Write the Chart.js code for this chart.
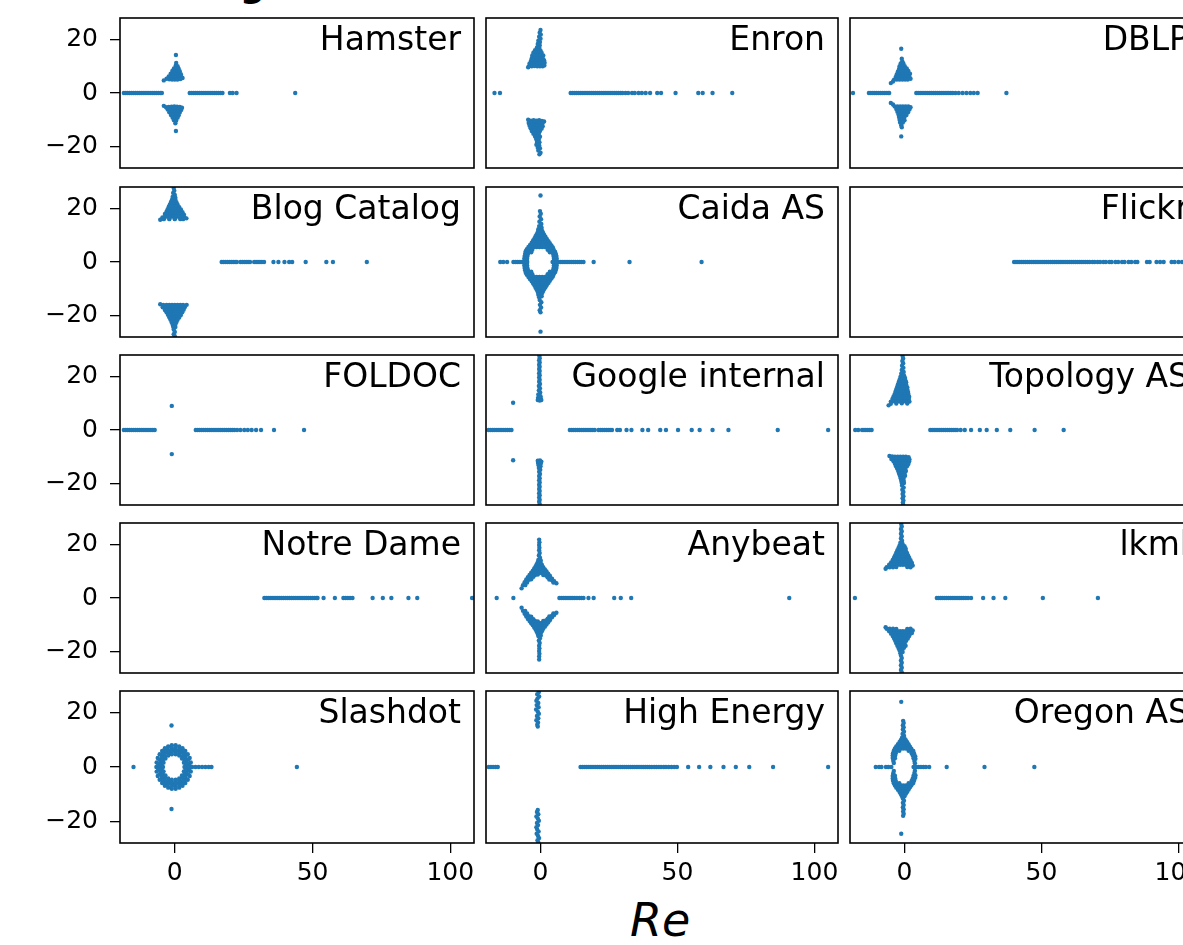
<!DOCTYPE html>
<html>
<head>
<meta charset="utf-8">
<script src="https://cdn.jsdelivr.net/npm/chart.js@4.4.1/dist/chart.umd.min.js"></script>
<style>
html, body { margin: 0; padding: 0; background: #fff; width: 1183px; height: 945px; overflow: hidden; }
.panel { position: absolute; }
.name { position: absolute; font-family: "DejaVu Sans"; font-size: 33px; line-height: 33px; color: #000; white-space: nowrap; text-align: right; }
#xlabel { position: absolute; font-family: "DejaVu Sans"; font-style: italic; font-size: 46px; line-height: 46px; color: #000; }
#sup { position: absolute; font-family: "DejaVu Sans"; font-weight: bold; font-size: 35px; line-height: 35px; color: #000; }
</style>
</head>
<body>
<div id="sup" style="left:240px;top:-32px">g</div>
<div id="xlabel" style="left:630px;top:897px">Re</div>
<script>
// axes
const xTicks = [0, 50, 100]
const yTicks = [-20, 0, 20]
const xRange = [-19.9, 108.6]
const yRange = [-28, 28]

const names = [
    "Hamster", "Enron", "DBLP",
    "Blog Catalog", "Caida AS", "Flickr",
    "FOLDOC", "Google internal", "Topology AS",
    "Notre Dame", "Anybeat", "lkml",
    "Slashdot", "High Energy", "Oregon AS"
]

const hamsterRe = [-18.5,-17.8,-17.1,-16.4,-15.7,-15,-14.3,-13.6,-12.9,-12.2,-11.5,-10.8,-10.1,-9.4,-8.7,-8,-7.3,-6.6,-5.9,-5.2,-4.7,5.4,6.1,6.8,7.5,8.2,8.9,9.6,10.3,11,11.7,12.4,13.1,13.8,14.5,15.2,15.9,16.6,17.3,20,21,22.4,43.7]
const hamsterCx = [[0.4,14.2],[0.5,11.2],[0.3,10.2],[1,10],[-0.3,9.2],[0.6,9],[1.4,9.1],[-0.9,8.2],[0,8],[0.9,8],[1.8,8.1],[-1.5,7.2],[-0.6,7],[0.4,7],[1.3,7],[2.2,7],[-2.2,6.2],[-1.3,6],[-0.4,6],[0.5,6],[1.4,6],[2.4,6],[-3,5.3],[-2,5.1],[-1,5],[0,5],[1,5],[2,5.2],[2.8,5.6],[-4,4.7],
    [-4,-4.8],[-3.2,-5.3],[-2.2,-5.2],[-1.2,-5.1],[-0.2,-5],[0.8,-5.1],[1.8,-5.2],[2.6,-5.5],[-2.6,-6.2],[-1.6,-6.1],[-0.6,-6],[0.4,-6],[1.4,-6.1],[2.3,-6.3],[-2,-7.2],[-1,-7],[0,-7],[1,-7],[1.8,-7.3],[-1.4,-8.2],[-0.4,-8],[0.6,-8],[1.4,-8.3],[-0.8,-9.2],[0.2,-9],[1,-9.2],[-0.3,-10.2],[0.5,-10.3],[0.2,-11.3],[0.4,-14.2]]

const enronRe = [-16.8,-14.8,11,11.7,12.4,13.1,13.8,14.5,15.2,15.9,16.6,17.3,18,18.7,19.4,20.1,20.8,21.5,22.2,22.9,23.6,24.3,25,25.7,26.4,27.1,27.8,28.5,29.2,29.9,31,32,33.4,34.4,35.8,37,38.4,40,42.6,44,49.3,57.6,59.2,62.8,70]
const enronCx = [[0,23.5],[-0.3,22.5],[0.1,21.8],[-0.5,21],[0,20.3],[-0.8,19.5],[-0.2,19],[-1,18.3],[-0.3,17.8],[-1.3,17],[-0.4,16.8],[-2,16],[-1,16],[0,15.8],[-2.6,15],[-1.6,15],[-0.6,15],[0.4,15],[-3,14],[-2,14],[-1,14],[0,14],[1,14],[-3.2,13],[-2.2,13],[-1.2,13],[-0.2,13],[0.8,13],[-3.5,12],[-2.5,12],[-1.5,12],[-0.5,12],[0.5,12],[1.3,12.2],[-4,11],[-3,11],[-2,11],[-1,11],[0,11],[1,11],[1.5,11.3],[-4.2,10],[-3.2,10],[-2.2,10.1],[-1.2,10],[-0.2,10],[0.8,10],[1.4,10.3],[-4.5,9.6],
    [-4.5,-10],[-3.5,-10.3],[-2.5,-10.2],[-1.5,-10.3],[-0.5,-10.2],[0.5,-10.4],[1.3,-10.6],[-4.3,-11.2],[-3.3,-11.2],[-2.3,-11.2],[-1.3,-11.2],[-0.3,-11.2],[0.7,-11.3],[-4,-12.2],[-3,-12.2],[-2,-12.2],[-1,-12.2],[0,-12.2],[0.8,-12.4],[-3.6,-13.2],[-2.6,-13.2],[-1.6,-13.2],[-0.6,-13.2],[0.4,-13.3],[-3.2,-14.2],[-2.2,-14.2],[-1.2,-14.2],[-0.2,-14.2],[-2.6,-15.2],[-1.6,-15.2],[-0.6,-15.2],[-2,-16.2],[-1,-16.2],[-0.2,-16.3],[-1.6,-17.2],[-0.6,-17.2],[-1.3,-18.3],[-0.4,-18.4],[-1.5,-19.3],[-0.5,-19.5],[-1,-20.4],[-0.2,-20.6],[-0.8,-21.5],[0,-22.3],[-0.4,-22.9]]

const dblpRe = [-18.8,-13,-12.3,-11.6,-10.9,-10.2,-9.5,-8.8,-8.1,-7.4,-6.7,-6,-5.6,4.3,5,5.7,6.4,7.1,7.8,8.5,9.2,9.9,10.6,11.3,12,12.7,13.4,14.1,14.8,15.5,16.2,16.9,17.6,18.6,19.8,21.2,22.6,24,25.3,26.7,37.2]
const dblpCx = [[-1.2,16.5],[-1,12.8],[-0.8,11.8],[-1.4,11],[-0.4,11],[-1.8,10],[-0.8,10],[0.1,10],[-2,9],[-1,9],[0,9],[0.8,9.2],[-2.4,8],[-1.4,8],[-0.4,8],[0.6,8],[1.4,8.2],[-2.8,7],[-1.8,7],[-0.8,7],[0.2,7],[1.2,7],[2,7.2],[-3.2,6],[-2.2,6],[-1.2,6],[-0.2,6],[0.8,6],[1.8,6],[-3.8,5],[-2.8,5],[-1.8,5],[-0.8,5],[0.2,5],[1.2,5],[2.2,5.3],[-5,3.7],[-4.2,4.3],
    [-5,-3.7],[-4.2,-4.3],[-3.6,-5],[-2.6,-5],[-1.6,-5],[-0.6,-5],[0.4,-5],[1.4,-5],[2.2,-5.3],[-3,-6],[-2,-6],[-1,-6],[0,-6],[1,-6],[1.8,-6.2],[-2.6,-7],[-1.6,-7],[-0.6,-7],[0.4,-7],[1.3,-7.2],[-2.2,-8],[-1.2,-8],[-0.2,-8],[0.7,-8.2],[-2,-9],[-1,-9],[0,-9],[-1.8,-10],[-0.8,-10],[0,-10.2],[-1.6,-11],[-0.6,-11],[-1.2,-12],[-1,-12.8],[-1.2,-16.2]]

const blogRe = [17,17.7,18.4,19.1,19.8,20.5,21.2,21.9,22.5,23.8,24.5,25.2,25.9,26.6,27.3,28.8,29.5,30.2,30.9,31.6,32.4,35.8,37.6,39.8,41.5,42.6,47.5,55,57.4,69.7]
const blogCx = [[-0.4,27.6],[-0.2,26.6],[-0.6,25.8],[0,25],[-0.8,24.3],[0.2,24],[-1,23.3],[0.2,23.2],[-1.4,22.4],[-0.3,22.4],[0.6,22.3],[-1.8,21.5],[-0.8,21.5],[0.2,21.5],[1,21.4],[-2.2,20.6],[-1.2,20.6],[-0.2,20.6],[0.8,20.6],[1.6,20.5],[-2.6,19.7],[-1.6,19.7],[-0.6,19.7],[0.4,19.7],[1.4,19.7],[2.2,19.6],[-3,18.8],[-2,18.8],[-1,18.8],[0,18.8],[1,18.8],[2,18.8],[2.8,18.6],[-3.6,17.9],[-2.6,17.9],[-1.6,17.9],[-0.6,17.9],[0.4,17.9],[1.4,17.9],[2.4,17.9],[3.3,17.7],[-4.5,16.6],[-3.5,16.9],[-2.5,16.9],[-1.5,16.9],[-0.5,16.9],[0.5,16.9],[1.5,16.9],[2.5,16.9],[3.5,16.7],[4.2,16.3],[-5.3,15.8],[-4,16],[-2,16],[0,16],[2,16],[3,16],
    [-5.3,-15.8],[-4.2,-16],[-3,-16],[-2,-16],[-1,-16],[0,-16],[1,-16],[2,-16],[3,-16],[4.3,-16],[-4.4,-16.9],[-3.4,-16.9],[-2.4,-16.9],[-1.4,-16.9],[-0.4,-16.9],[0.6,-16.9],[1.6,-16.9],[2.6,-16.9],[3.6,-16.9],[-3.6,-17.9],[-2.6,-17.9],[-1.6,-17.9],[-0.6,-17.9],[0.4,-17.9],[1.4,-17.9],[2.4,-17.9],[3.2,-17.8],[-3,-18.8],[-2,-18.8],[-1,-18.8],[0,-18.8],[1,-18.8],[2,-18.8],[2.7,-18.8],[-2.5,-19.7],[-1.5,-19.7],[-0.5,-19.7],[0.5,-19.7],[1.5,-19.7],[2.2,-19.8],[-2,-20.6],[-1,-20.6],[0,-20.6],[1,-20.6],[1.6,-20.7],[-1.6,-21.5],[-0.6,-21.5],[0.4,-21.5],[1,-21.6],[-1.2,-22.4],[-0.2,-22.4],[0.6,-22.4],[-0.8,-23.3],[0.2,-23.3],[-0.6,-24.2],[0.2,-24.3],[-0.4,-25.2],[0,-26.1],[-0.4,-27],[0,-27.7]]

const caidaRe = [-14.7,-13.6,-12.2,-9.9,-9.2,-8.5,-7.8,-7.1,-6.4,-5.7,-4.9,4.4,5.1,5.8,6.5,7.2,7.9,8.6,9.3,10,10.7,11.4,12.1,12.8,13.5,14.2,14.9,15.7,19.4,32.5,58.8]
const caidaCx = [[0,24.8],[-0.2,19],[0.1,18],[-0.3,17],[0.2,16],[-0.4,15],[0.3,14.2],[-0.5,13.4],[0.4,12.8],[-0.8,12.2],[0.5,11.8],[-1,11.2],[0,11.2],[0.9,11],[-1.4,10.4],[-0.4,10.4],[0.6,10.4],[1.3,10.2],[-1.8,9.6],[-0.8,9.6],[0.2,9.6],[1.2,9.6],[1.8,9.4],[-2.2,8.8],[-1.2,8.8],[-0.2,8.8],[0.8,8.8],[1.8,8.8],[2.3,8.6],[-2.7,8],[-1.7,8],[-0.7,8],[0.3,8],[1.3,8],[2.3,8],[2.9,7.8],[-3.2,7.2],[-2.2,7.2],[-1.2,7.2],[-0.2,7.2],[0.8,7.2],[1.8,7.2],[2.8,7.2],[3.4,7],[-3.8,6.4],[-2.8,6.4],[-1.8,6.4],[-0.8,6.4],[0.2,6.4],[1.2,6.4],[2.2,6.4],[3.2,6.4],[4,6.2],[-4.4,5.6],[-3.4,5.6],[-2.4,5.6],[-1.4,5.6],[-0.4,5.6],[0.6,5.6],[1.6,5.6],[2.6,5.6],[3.6,5.6],[4.5,5.4],[-5,4.8],[-4,4.8],[-3,4.6],[2.6,4.6],[3.6,4.8],[4.8,4.6],[-5.4,4],[-4.4,3.9],[-3.4,3.6],[3.4,3.6],[4.4,3.9],[5.3,3.8],[-5.6,3.1],[-4.6,3],[4.6,3],[5.6,3],[-5.8,2.2],[-4.8,2.1],[4.8,2.1],[5.8,2.2],[-5.9,1.3],[-4.9,1.2],[4.9,1.2],[5.9,1.3],[-5.9,0.4],[-4.9,0.4],[4.9,0.4],[5.9,0.4],
    [-5.9,-0.4],[-4.9,-0.4],[4.9,-0.4],[5.9,-0.4],[-5.9,-1.3],[-4.9,-1.2],[4.9,-1.2],[5.9,-1.3],[-5.8,-2.2],[-4.8,-2.1],[4.8,-2.1],[5.8,-2.2],[-5.6,-3.1],[-4.6,-3],[4.6,-3],[5.6,-3],[-5.4,-4],[-4.4,-3.9],[-3.4,-3.6],[3.4,-3.6],[4.4,-3.9],[5.3,-3.8],[-5,-4.8],[-4,-4.8],[-3,-4.6],[2.6,-4.6],[3.6,-4.8],[4.8,-4.6],[-4.4,-5.6],[-3.4,-5.6],[-2.4,-5.6],[-1.4,-5.6],[-0.4,-5.6],[0.6,-5.6],[1.6,-5.6],[2.6,-5.6],[3.6,-5.6],[4.5,-5.4],[-3.8,-6.4],[-2.8,-6.4],[-1.8,-6.4],[-0.8,-6.4],[0.2,-6.4],[1.2,-6.4],[2.2,-6.4],[3.2,-6.4],[4,-6.2],[-3.2,-7.2],[-2.2,-7.2],[-1.2,-7.2],[-0.2,-7.2],[0.8,-7.2],[1.8,-7.2],[2.8,-7.2],[3.4,-7],[-2.7,-8],[-1.7,-8],[-0.7,-8],[0.3,-8],[1.3,-8],[2.3,-8],[2.9,-7.8],[-2.2,-8.8],[-1.2,-8.8],[-0.2,-8.8],[0.8,-8.8],[1.8,-8.8],[2.3,-8.6],[-1.8,-9.6],[-0.8,-9.6],[0.2,-9.6],[1.2,-9.6],[1.8,-9.4],[-1.4,-10.4],[-0.4,-10.4],[0.6,-10.4],[1.3,-10.2],[-1,-11.2],[0,-11.2],[0.9,-11],[-0.8,-12.2],[0.5,-11.8],[-0.5,-13.2],[0.4,-12.8],[-0.3,-14.2],[0.3,-15],[-0.2,-16],[0.2,-17],[-0.3,-18],[0,-18.8],[0,-26]]

const flickrRe = [40,40.7,41.4,42.1,42.8,43.5,44.2,44.9,45.6,46.3,47,47.7,48.4,49.1,49.8,50.5,51.2,51.9,52.6,53.3,54,54.7,55.4,56.1,56.8,57.5,58.2,58.9,59.6,60.3,61,61.7,62.4,63.1,63.8,64.5,65.2,66,66.8,67.6,68.6,69.4,70.5,71.4,72.6,73.5,74.8,75.6,77,78,79.4,80.3,81.8,82.8,84.2,85,88.5,89.5,92,93.3,94.6,97.5,98.6,100,101.3,104,106.5]
const flickrCx = []

const foldocRe = [-18.5,-17.8,-17.1,-16.4,-15.7,-15,-14.3,-13.6,-12.9,-12.2,-11.5,-10.8,-10.1,-9.4,-8.7,-8,-7.3,7.6,8.3,9,9.7,10.4,11.1,11.8,12.5,13.2,13.9,14.6,15.3,16,16.7,17.4,18.1,18.8,19.5,20.2,20.9,21.6,22.6,23.8,25.2,26.5,27.9,29.5,31.3,36,46.9]
const foldocCx = [[-1.1,9],[-1.1,-9]]

const googleRe = [-19,-18.3,-17.6,-16.9,-16.2,-15.5,-14.8,-14.1,-13.4,-12.7,-12,-11.3,-10.6,10.7,11.4,12.1,12.8,13.5,14.2,14.9,15.6,16.3,17,17.7,18.4,19.1,19.8,21.2,21.9,22.6,23.3,24,24.7,25.4,26.1,28,29,31.4,33.2,37.2,39.3,43.7,45.8,50.2,55.2,58.1,62.8,68.6,86.6,105]
const googleCx = [[-0.4,27.6],[-0.3,26.8],[-0.5,26],[-0.3,25.2],[-0.5,24.4],[-0.3,23.6],[-0.5,22.8],[-0.3,22],[-0.5,21.2],[-0.3,20.4],[-0.5,19.6],[-0.3,18.8],[-0.5,18],[-0.2,17.2],[-0.6,16.4],[-0.2,15.6],[-0.6,14.8],[-0.1,14],[-0.8,13.3],[0,12.6],[-0.9,12],[0.1,11.8],[-1,11.2],[-0.3,11],[0.3,11.2],[-10,10.2],
    [-10,-11.3],[-1,-11.5],[-0.2,-11.4],[0.3,-11.8],[-0.9,-12.3],[0.1,-12.5],[-0.7,-13.2],[0,-13.5],[-0.6,-14.2],[-0.1,-14.8],[-0.5,-15.6],[-0.2,-16.4],[-0.5,-17.2],[-0.3,-18],[-0.5,-18.8],[-0.3,-19.6],[-0.5,-20.4],[-0.3,-21.2],[-0.5,-22],[-0.3,-22.8],[-0.5,-23.6],[-0.3,-24.4],[-0.5,-25.2],[-0.3,-26],[-0.5,-26.8],[-0.3,-27.6]]

const topoRe = [-18,-16.9,-15.5,-14.8,-14.1,-13.4,-12.7,-12,9.4,10.1,10.8,11.5,12.2,12.9,13.6,14.3,15,15.7,16.4,17.1,17.8,18.5,19.2,20.5,22,24.3,27.5,30,33.7,38.6,47.5,58.1]
const topoCx = [[-0.7,27.6],[-0.5,26.7],[-0.8,25.8],[-0.5,24.9],[-0.9,24],[-0.4,23.2],[-1,22.4],[-0.3,21.7],[-1.2,21],[-0.2,20.4],[-1.5,19.8],[-0.5,19.6],[0.2,19.4],[-1.8,18.8],[-0.8,18.8],[0.3,18.6],[-2.1,17.9],[-1.1,17.9],[-0.1,17.9],[0.6,17.8],[-2.4,17],[-1.4,17],[-0.4,17],[0.6,17],[-2.7,16.1],[-1.7,16.1],[-0.7,16.1],[0.3,16.1],[1,16],[-3,15.2],[-2,15.2],[-1,15.2],[0,15.2],[1,15.2],[-3.3,14.3],[-2.3,14.3],[-1.3,14.3],[-0.3,14.3],[0.7,14.3],[1.3,14.2],[-3.6,13.4],[-2.6,13.4],[-1.6,13.4],[-0.6,13.4],[0.4,13.4],[1.4,13.4],[-4,12.5],[-3,12.5],[-2,12.5],[-1,12.5],[0,12.5],[1,12.5],[1.7,12.4],[-4.4,11.6],[-3.4,11.6],[-2.4,11.6],[-1.4,11.6],[-0.4,11.6],[0.6,11.6],[1.6,11.6],[-5,10.6],[-4,10.7],[-3,10.7],[-2,10.7],[-1,10.7],[0,10.7],[1,10.7],[1.8,10.6],[-5.8,9.2],[-5,9.8],[-3,9.9],[-1,10],[1,9.9],
    [-5.5,-9.7],[-4.5,-9.9],[-3.5,-10],[-2.5,-10],[-1.5,-10],[-0.5,-10],[0.5,-10],[1.5,-10.2],[-4.8,-10.8],[-3.8,-10.8],[-2.8,-10.8],[-1.8,-10.8],[-0.8,-10.8],[0.2,-10.8],[1.2,-10.8],[1.8,-11],[-4,-11.7],[-3,-11.7],[-2,-11.7],[-1,-11.7],[0,-11.7],[1,-11.7],[1.7,-11.8],[-3.5,-12.6],[-2.5,-12.6],[-1.5,-12.6],[-0.5,-12.6],[0.5,-12.6],[1.4,-12.7],[-3.1,-13.5],[-2.1,-13.5],[-1.1,-13.5],[-0.1,-13.5],[0.9,-13.5],[-2.7,-14.4],[-1.7,-14.4],[-0.7,-14.4],[0.3,-14.4],[-2.3,-15.3],[-1.3,-15.3],[-0.3,-15.3],[0.5,-15.3],[-2,-16.2],[-1,-16.2],[0,-16.2],[-1.7,-17.1],[-0.7,-17.1],[0.2,-17.1],[-1.4,-18],[-0.4,-18],[-1.2,-18.9],[-0.3,-18.9],[-1,-19.8],[-0.2,-19.8],[-0.9,-20.7],[-0.3,-21.5],[-0.8,-22.3],[-0.4,-23.1],[-0.7,-23.9],[-0.4,-24.7],[-0.7,-25.5],[-0.4,-26.3],[-0.6,-27.1],[-0.5,-27.8]]

const notreRe = [32.5,33.2,33.9,34.6,35.3,36,36.7,37.4,38.1,38.8,39.5,40.2,40.9,41.6,42.3,43,43.7,44.4,45.1,45.8,46.5,47.2,47.9,48.6,49.3,50,50.7,51.4,51.8,54,58.1,61.2,62,62.8,63.6,64.5,71.8,75.5,78.6,84.8,88,107.9]
const notreCx = []

const anybeatRe = [-16,-9.9,6.9,7.6,8.3,9,9.7,10.4,11.1,11.8,12.5,13.3,14.2,15,15.7,17.5,19.4,26.9,29.3,33.1,90.8]
const anybeatCx = [[-0.5,21.8],[-0.4,20.8],[-0.5,19.8],[-0.4,18.8],[-0.5,17.8],[-0.3,16.8],[-0.6,15.9],[-0.2,15],[-0.8,14.2],[0.1,14],[-1,13.4],[0,13.2],[-1.4,12.6],[-0.4,12.4],[0.5,12.4],[-1.8,11.8],[-0.8,11.6],[0.2,11.6],[1,11.5],[-2.3,11],[-1.3,10.9],[-0.3,10.8],[0.7,10.8],[1.6,10.7],[-2.8,10.2],[-1.8,10],[-0.8,10],[0.2,10],[1.2,10],[2.2,9.9],[-3.4,9.4],[-2.4,9.2],[-1.4,9.2],[-0.4,9.3],[0.6,9.3],[1.6,9.2],[2.8,9.1],[-4,8.6],[-3,8.4],[-2,8.6],[-1,8.8],[1,8.6],[2,8.4],[3.4,8.3],[-4.6,7.8],[-3.6,7.6],[-2.6,7.9],[2.6,7.7],[3.6,7.6],[4.2,7.2],[-5.2,6.9],[-4.2,6.8],[-3.4,7],[3.2,6.9],[4.2,6.6],[5,6.3],[-5.8,5.9],[-4.9,5.8],[4.7,5.8],[5.8,5.5],[-6.4,4.8],[-5.6,4.8],[-6.9,3.6],
    [-6.9,-3.6],[-6.4,-4.8],[-5.6,-4.8],[-5.8,-5.9],[-4.9,-5.8],[4.7,-5.8],[5.8,-5.5],[-5.2,-6.9],[-4.2,-6.8],[-3.4,-7],[3.2,-6.9],[4.2,-6.6],[5,-6.3],[-4.6,-7.8],[-3.6,-7.6],[-2.6,-7.9],[2.6,-7.7],[3.6,-7.6],[4.2,-7.2],[-4,-8.6],[-3,-8.4],[-2,-8.6],[-1,-8.8],[1,-8.6],[2,-8.4],[3.4,-8.3],[-3.4,-9.4],[-2.4,-9.2],[-1.4,-9.2],[-0.4,-9.3],[0.6,-9.3],[1.6,-9.2],[2.8,-9.1],[-2.8,-10.2],[-1.8,-10],[-0.8,-10],[0.2,-10],[1.2,-10],[2.2,-9.9],[-2.3,-11],[-1.3,-10.9],[-0.3,-10.8],[0.7,-10.8],[1.6,-10.7],[-1.8,-11.8],[-0.8,-11.6],[0.2,-11.6],[1,-11.5],[-1.4,-12.6],[-0.4,-12.4],[0.5,-12.4],[-1,-13.4],[0,-13.2],[-0.8,-14.2],[0.1,-14],[-0.2,-15],[-0.6,-15.9],[-0.3,-16.8],[-0.5,-17.8],[-0.4,-18.8],[-0.5,-19.8],[-0.4,-20.8],[-0.5,-21.8],[-0.5,-23]]

const lkmlRe = [-18.1,11.8,12.5,13.2,13.9,14.6,15.3,16,16.7,17.4,18.1,18.8,19.5,20.2,20.9,21.6,22.4,23.2,24.3,28.7,32.5,36.8,50.5,70.6]
const lkmlCx = [[-1.2,27.6],[-1,26.7],[-1.3,25.8],[-1,24.9],[-1.3,24],[-1,23.1],[-1.3,22.2],[-0.9,21.4],[-1.5,20.6],[-0.7,20.2],[-1.8,19.6],[-0.8,19.4],[0,19.3],[-2.2,18.7],[-1.2,18.6],[-0.2,18.6],[0.4,18.5],[-2.6,17.8],[-1.6,17.8],[-0.6,17.8],[0.4,17.8],[-3,16.9],[-2,16.9],[-1,16.9],[0,16.9],[0.9,16.8],[-3.4,16],[-2.4,16],[-1.4,16],[-0.4,16],[0.6,16],[1.3,15.9],[-3.8,15.1],[-2.8,15.1],[-1.8,15.1],[-0.8,15.1],[0.2,15.1],[1.2,15.1],[1.7,15],[-4.3,14.2],[-3.3,14.2],[-2.3,14.2],[-1.3,14.2],[-0.3,14.2],[0.7,14.2],[1.7,14.2],[2.2,14.1],[-4.9,13.3],[-3.9,13.3],[-2.9,13.3],[-1.9,13.3],[-0.9,13.3],[0.1,13.3],[1.1,13.3],[2.1,13.3],[2.7,13.1],[-5.6,12.4],[-4.6,12.4],[-3.6,12.4],[-2.6,12.4],[-1.6,12.4],[-0.6,12.4],[0.4,12.4],[1.4,12.4],[2.4,12.4],[3,12.1],[-6.5,11.5],[-5.4,11.5],[-4.2,11.5],[-3,11.6],[1,11.6],[2.2,11.5],[-6.9,10.9],
    [-6.9,-10.9],[-6.5,-11.5],[-5.4,-11.5],[-4.2,-11.5],[-3,-11.6],[1,-11.6],[2.2,-11.5],[-5.6,-12.4],[-4.6,-12.4],[-3.6,-12.4],[-2.6,-12.4],[-1.6,-12.4],[-0.6,-12.4],[0.4,-12.4],[1.4,-12.4],[2.4,-12.4],[3,-12.1],[-4.9,-13.3],[-3.9,-13.3],[-2.9,-13.3],[-1.9,-13.3],[-0.9,-13.3],[0.1,-13.3],[1.1,-13.3],[2.1,-13.3],[2.7,-13.1],[-4.3,-14.2],[-3.3,-14.2],[-2.3,-14.2],[-1.3,-14.2],[-0.3,-14.2],[0.7,-14.2],[1.7,-14.2],[-3.8,-15.1],[-2.8,-15.1],[-1.8,-15.1],[-0.8,-15.1],[0.2,-15.1],[1.2,-15.1],[-3.4,-16],[-2.4,-16],[-1.4,-16],[-0.4,-16],[0.6,-16],[-3,-16.9],[-2,-16.9],[-1,-16.9],[0,-16.9],[-2.6,-17.8],[-1.6,-17.8],[-0.6,-17.8],[0.4,-17.8],[-2.2,-18.7],[-1.2,-18.6],[-0.2,-18.6],[-1.8,-19.6],[-0.8,-19.4],[-1.5,-20.6],[-0.7,-20.2],[-1.3,-21.5],[-1,-22.4],[-1.3,-23.3],[-1,-24.2],[-1.3,-25.1],[-1,-26],[-1.3,-26.9],[-1,-27.7]]

const slashRe = [-15,6.3,7.5,8.7,9.9,11.1,12.3,13.3,44.3]
const slashCx = [[5.9,0],[5.8,1.7],[5.4,3.3],[4.7,4.7],[3.8,5.9],[2.8,6.9],[1.6,7.6],[0.3,8],[-1.1,8],[-2.4,7.6],[-3.6,6.9],[-4.6,5.9],[-5.5,4.7],[-6.2,3.3],[-6.6,1.7],[-6.7,0],[-6.6,-1.7],[-6.2,-3.3],[-5.5,-4.7],[-4.6,-5.9],[-3.6,-6.9],[-2.4,-7.6],[-1.1,-8],[0.3,-8],[1.6,-7.6],[2.8,-6.9],[3.8,-5.9],[4.7,-4.7],[5.4,-3.3],[5.8,-1.7],
    [5.2,0.9],[4.8,2.7],[4.1,4.4],[3,5.7],[1.8,6.6],[0.3,7.1],[-1.1,7.1],[-2.6,6.6],[-3.9,5.7],[-4.9,4.4],[-5.6,2.7],[-6,0.9],[5.2,-0.9],[4.8,-2.7],[4.1,-4.4],[3,-5.7],[1.8,-6.6],[0.3,-7.1],[-1.1,-7.1],[-2.6,-6.6],[-3.9,-5.7],[-4.9,-4.4],[-5.6,-2.7],[-6,-0.9],
    [4.6,0],[4.4,1.6],[3.9,3.2],[3.1,4.5],[2.1,5.5],[0.9,6.1],[-0.4,6.3],[-1.7,6.1],[-2.9,5.5],[-3.9,4.5],[-4.7,3.2],[-5.2,1.6],[-5.4,0],[-5.2,-1.6],[-4.7,-3.2],[-3.9,-4.5],[-2.9,-5.5],[-1.7,-6.1],[-0.4,-6.3],[0.9,-6.1],[2.1,-5.5],[3.1,-4.5],[3.9,-3.2],[4.4,-1.6],
    [4,0.9],[3.6,2.5],[2.8,3.9],[1.6,5],[0.3,5.5],[-1.1,5.5],[-2.4,5],[-3.6,3.9],[-4.4,2.5],[-4.8,0.9],[4,-0.9],[3.6,-2.5],[2.8,-3.9],[1.6,-5],[0.3,-5.5],[-1.1,-5.5],[-2.4,-5],[-3.6,-3.9],[-4.4,-2.5],[-4.8,-0.9],
    [3.5,0],[3.3,1.6],[2.6,3.1],[1.6,4.2],[0.3,4.7],[-1.1,4.7],[-2.4,4.2],[-3.4,3.1],[-4.1,1.6],[-4.3,0],[-4.1,-1.6],[-3.4,-3.1],[-2.4,-4.2],[-1.1,-4.7],[0.3,-4.7],[1.6,-4.2],[2.6,-3.1],[3.3,-1.6],
    [-1.2,15.3],[-1.2,-15.5]]

const hepRe = [-18.9,-18.1,-17.3,-16.4,-15.6,14.6,15.3,16,16.7,17.4,18.1,18.8,19.5,20.2,20.9,21.6,22.3,23,23.7,24.4,25.1,25.8,26.5,27.2,27.9,28.6,29.3,30,30.7,31.4,32.1,32.8,33.5,34.2,34.9,35.6,36.3,37,37.7,38.4,39.1,39.8,40.6,41.5,42.3,43.2,44,45,45.8,46.8,47.8,48.8,49.8,53.9,57.9,62,66.8,71.3,76.2,84.9,105]
const hepCx = [[-0.6,27.6],[-1.2,26.8],[-0.5,26],[-1.1,25.2],[-1.5,24.4],[-0.8,23.6],[-1.4,22.8],[-0.7,22],[-1.6,21.2],[-1,20.4],[-0.6,19.6],[-1.3,18.8],[-0.8,18],[-1.5,17.2],[-0.9,16.4],[-1.2,15.6],[-1,14.9],
    [-1,-15.8],[-1.3,-16.6],[-0.8,-17.4],[-1.5,-18.2],[-1,-19],[-0.6,-19.8],[-1.3,-20.6],[-0.9,-21.4],[-1.5,-22.2],[-1.2,-23],[-0.7,-23.8],[-1.4,-24.6],[-0.9,-25.4],[-0.5,-26.2],[-1.1,-27],[-0.8,-27.8]]

const oregonRe = [-10.5,-9.3,-8.4,-6.8,-5.9,-4.8,3.3,4.2,5.1,6,6.9,7.8,9,15.4,29.2,47.4]
const oregonCx = [[-1.2,24],[-0.5,17],[-0.3,16.2],[-0.6,15.4],[-0.3,14.6],[-0.6,13.8],[-0.2,13],[-0.7,12.2],[-0.2,11.5],[-0.9,10.8],[0,10.6],[-1.3,10],[-0.3,9.9],[0.5,9.9],[-1.8,9.2],[-0.8,9.2],[0.2,9.2],[1,9.1],[-2.4,8.4],[-1.4,8.4],[-0.4,8.4],[0.6,8.4],[1.5,8.3],[-3,7.6],[-2,7.6],[-1,7.6],[0,7.6],[1,7.6],[2,7.5],[-3.5,6.8],[-2.5,6.8],[-1.5,6.8],[-0.5,6.8],[0.5,6.8],[1.5,6.8],[2.5,6.7],[-3.9,6],[-2.9,6],[-1.9,6],[1.5,6],[2.5,6],[3.2,5.9],[-4.2,5.1],[-3.2,5.1],[2.6,5.1],[3.5,5],[-4.3,4.2],[-3.4,4.2],[3,4.2],[3.9,4],[-4.3,3.3],[-3.5,3.2],[3.3,3.2],[4,3],[-4.1,2.3],[3.6,2.2],[-3.9,1.5],[3.8,1.4],
    [-3.9,-1.5],[3.8,-1.4],[-4.1,-2.3],[3.6,-2.2],[-4.3,-3.3],[-3.5,-3.2],[3.3,-3.2],[4,-3],[-4.3,-4.2],[-3.4,-4.2],[3,-4.2],[3.9,-4],[-4.2,-5.1],[-3.2,-5.1],[2.6,-5.1],[3.5,-5],[-3.9,-6],[-2.9,-6],[-1.9,-6],[1.5,-6],[2.5,-6],[3.2,-5.9],[-3.5,-6.8],[-2.5,-6.8],[-1.5,-6.8],[-0.5,-6.8],[0.5,-6.8],[1.5,-6.8],[2.5,-6.7],[-3,-7.6],[-2,-7.6],[-1,-7.6],[0,-7.6],[1,-7.6],[2,-7.5],[-2.4,-8.4],[-1.4,-8.4],[-0.4,-8.4],[0.6,-8.4],[1.5,-8.3],[-1.8,-9.2],[-0.8,-9.2],[0.2,-9.2],[1,-9.1],[-1.3,-10],[-0.3,-10],[0.5,-9.9],[-0.9,-10.8],[0,-10.8],[-0.6,-11.6],[-0.2,-12.4],[-0.6,-13.2],[-0.3,-14],[-0.6,-14.8],[-0.3,-15.6],[-0.5,-16.4],[-0.3,-17.2],[-0.5,-18],[-1.2,-24.6]]

const reals = [hamsterRe, enronRe, dblpRe, blogRe, caidaRe, flickrRe, foldocRe, googleRe, topoRe, notreRe, anybeatRe, lkmlRe, slashRe, hepRe, oregonRe]
const complexes = [hamsterCx, enronCx, dblpCx, blogCx, caidaCx, flickrCx, foldocCx, googleCx, topoCx, notreCx, anybeatCx, lkmlCx, slashCx, hepCx, oregonCx]

// grid layout
const colLeft = [120, 484, 848]
const rowTop = [16, 185, 353, 521, 689]
const boxW = 356
const boxH = 154
const yAxisW = 120
const xAxisH = 60
const pad = 2

const blue = "#1f77b4"
const tickFont = { family: "DejaVu Sans", size: 25, lineHeight: 1 }
const minus = v => (v < 0 ? "\u2212" + Math.abs(v) : String(v))

const frame = {
    id: "frame",
    afterDatasetsDraw(chart) {
        const { ctx, chartArea: a } = chart
        ctx.save()
        ctx.strokeStyle = "#000"
        ctx.lineWidth = 1.6
        ctx.strokeRect(a.left, a.top, a.right - a.left, a.bottom - a.top)
        ctx.restore()
    }
}

function axis(show, ticks, range, fitFn, tickPad) {
    const s = {
        type: "linear",
        min: range[0],
        max: range[1],
        display: show,
        afterBuildTicks: sc => { sc.ticks = ticks.map(v => ({ value: v })) },
        grid: { drawOnChartArea: false, drawTicks: true, tickLength: 10, color: "#000", lineWidth: 1.3 },
        border: { display: false },
        ticks: { padding: tickPad, color: "#000", font: tickFont, maxRotation: 0, autoSkip: false, callback: minus }
    }
    if (show) {
        s.afterFit = sc => {
            fitFn(sc)
            // keep the plot box fixed: no extra room for overhanging labels
            sc.paddingTop = 0
            sc.paddingBottom = 0
            sc.paddingLeft = 0
            sc.paddingRight = 0
        }
    }
    return s
}

names.forEach((name, i) => {
    const r = Math.floor(i / 3)
    const c = i % 3
    const showY = c === 0
    const showX = r === rowTop.length - 1

    const left = (showY ? colLeft[0] - yAxisW : colLeft[c]) - pad
    const top = rowTop[r] - pad
    const w = boxW + 2 * pad + (showY ? yAxisW : 0)
    const h = boxH + 2 * pad + (showX ? xAxisH : 0)

    const div = document.createElement("div")
    div.className = "panel"
    div.style.left = left + "px"
    div.style.top = top + "px"
    const cv = document.createElement("canvas")
    cv.width = w
    cv.height = h
    div.appendChild(cv)
    document.body.appendChild(div)

    const points = reals[i].map(x => ({ x, y: 0 }))
        .concat(complexes[i].map(p => ({ x: p[0], y: p[1] })))

    new Chart(cv, {
        type: "scatter",
        data: {
            datasets: [{
                data: points,
                backgroundColor: blue,
                borderColor: blue,
                borderWidth: 0,
                pointRadius: 2.2,
                clip: 0
            }]
        },
        options: {
            responsive: false,
            devicePixelRatio: 1,
            animation: false,
            layout: { padding: pad },
            plugins: { legend: { display: false }, tooltip: { enabled: false } },
            scales: {
                x: axis(showX, xTicks, xRange, sc => { sc.height = xAxisH }, 8),
                y: axis(showY, yTicks, yRange, sc => { sc.width = yAxisW }, 12)
            }
        },
        plugins: [frame]
    })

    const lab = document.createElement("div")
    lab.className = "name"
    lab.textContent = name
    lab.style.right = (1183 - (colLeft[c] + boxW - 15)) + "px"
    lab.style.top = (rowTop[r] + 6) + "px"
    document.body.appendChild(lab)
})
</script>
</body>
</html>
